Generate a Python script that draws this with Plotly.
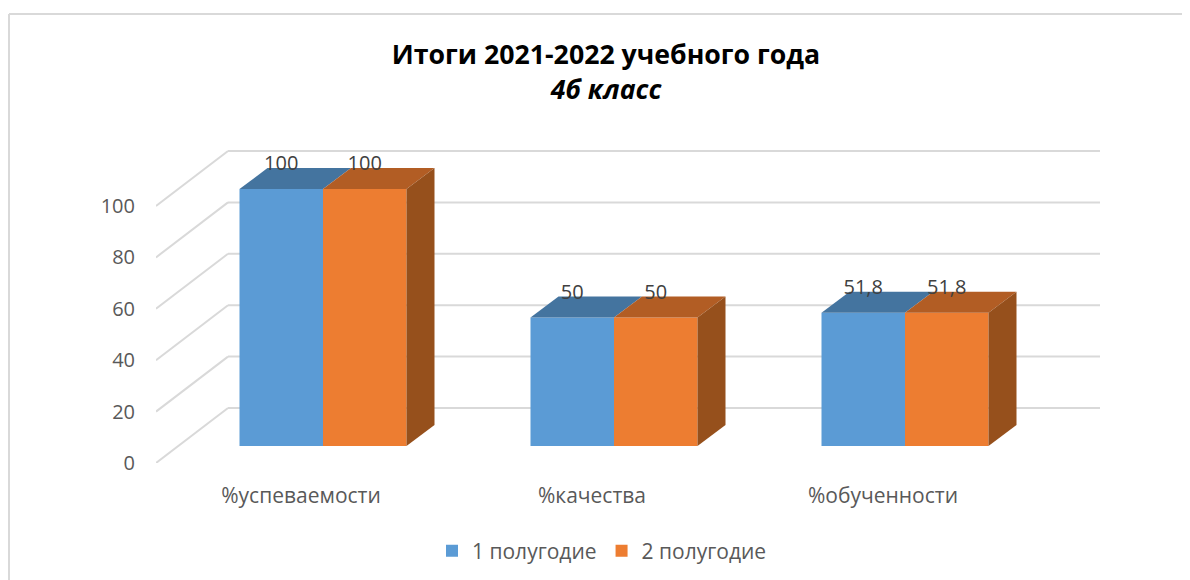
import plotly.graph_objects as go

categories = ["%успеваемости", "%качества", "%обученности"]
series_1 = [100, 50, 51.8]
series_2 = [100, 50, 51.8]
series_names = ["1 полугодие", "2 полугодие"]
y_ticks = [0, 20, 40, 60, 80, 100]
title_main = "Итоги 2021-2022 учебного года"
title_sub = "4б класс"

PAGE = 8          # the page body margin shifts the figure by this much
W, H = 1190 - PAGE, 580 - PAGE
L, R, T, B = 156 - PAGE, 1100 - PAGE, 150 - PAGE, 463 - PAGE
PX_X = 291.0      # px per category
PX_Y = 2.57       # px per value unit
X0 = 323 - PAGE   # px of first category centre
def dx(px): return px / PX_X
def dy(px): return px / PX_Y

BAR_W = dx(83.5)
BASE = dy(17)
DEPTH_X, DEPTH_Y = dx(28), dy(21)
WALL_X, WALL_Y = dx(72), dy(55)
LABEL_UP = dy(24)

x_left = (L - X0) / PX_X
x_right = (R - X0) / PX_X

fig = go.Figure()
pos = list(range(len(categories)))

styles = [
    (series_1, "#5B9BD5", "#44749F", -BAR_W, series_names[0]),
    (series_2, "#ED7D31", "#B25D24", 0, series_names[1]),
]

for vals, col, topc, off, name in styles:
    fig.add_trace(go.Bar(x=pos, y=vals, base=BASE, width=BAR_W, offset=off,
                         marker=dict(color=col, line=dict(width=0)), name=name,
                         showlegend=True, hoverinfo="skip"))

for vals, col, topc, off, name in styles:
    for p, v in zip(pos, vals):
        a, b = p + off, p + off + BAR_W
        top = BASE + v
        fig.add_trace(go.Scatter(
            x=[a, b, b + DEPTH_X, a + DEPTH_X, a],
            y=[top, top, top + DEPTH_Y, top + DEPTH_Y, top],
            mode="lines", fill="toself", fillcolor=topc, line=dict(width=0),
            showlegend=False, hoverinfo="skip"))

# side faces of the right-hand series
for p, v in zip(pos, series_2):
    b = p + BAR_W
    top = BASE + v
    fig.add_trace(go.Scatter(
        x=[b, b + DEPTH_X, b + DEPTH_X, b, b],
        y=[BASE, BASE + DEPTH_Y, top + DEPTH_Y, top, BASE],
        mode="lines", fill="toself", fillcolor="#96501C", line=dict(width=0),
        showlegend=False, hoverinfo="skip"))

def fmt(v):
    return str(v).replace(".", ",")

for vals, col, topc, off, name in styles:
    fig.add_trace(go.Scatter(
        x=[p + off + BAR_W / 2 for p in pos],
        y=[BASE + v + LABEL_UP for v in vals],
        text=[fmt(v) for v in vals], mode="text", textposition="middle center",
        textfont=dict(family="Open Sans", size=20, color="#404040"),
        showlegend=False, hoverinfo="skip"))

GRID = dict(color="#D9D9D9", width=2)
shapes = []
for t in y_ticks:
    shapes.append(dict(type="line", xref="x", yref="y", layer="below",
                       x0=x_left, x1=x_left + WALL_X, y0=t, y1=t + WALL_Y, line=GRID))
    shapes.append(dict(type="line", xref="x", yref="y", layer="below",
                       x0=x_left + WALL_X, x1=x_right, y0=t + WALL_Y, y1=t + WALL_Y, line=GRID))
# chart frame, in paper fractions of the plot area
pw, ph = R - L, B - T
def fx(px): return (px - L) / pw
def fy(px): return (B - px) / ph
FRAME = dict(color="#D9D9D9", width=2)
shapes.append(dict(type="line", xref="paper", yref="paper", layer="below",
                   x0=fx(1), x1=fx(W), y0=fy(6), y1=fy(6), line=FRAME))
shapes.append(dict(type="line", xref="paper", yref="paper", layer="below",
                   x0=fx(1), x1=fx(1), y0=fy(6), y1=fy(H), line=FRAME))

fig.update_layout(
    width=W, height=H, autosize=False,
    margin=dict(l=L, r=W - R, t=T, b=H - B),
    paper_bgcolor="white", plot_bgcolor="rgba(0,0,0,0)",
    barmode="overlay", shapes=shapes,
    title=dict(
        text=f"<b>{title_main}</b><br><b><i>{title_sub}</i></b>",
        font=dict(family="Open Sans", size=26.7, color="#000000"),
        x=(606 - PAGE) / W, xanchor="center", xref="container",
        y=1 - 56 / H, yanchor="top", yref="container"),
    xaxis=dict(range=[x_left, x_right], tickvals=[p + dx(-22) for p in pos],
               ticktext=categories, showgrid=False, zeroline=False, showline=False,
               ticks="", ticklabelstandoff=18,
               tickfont=dict(family="Open Sans", size=21, color="#595959")),
    yaxis=dict(range=[0, ph / PX_Y], tickvals=y_ticks, showgrid=False, zeroline=False,
               showline=False, ticks="", ticklabelstandoff=20,
               tickfont=dict(family="Open Sans", size=20, color="#595959")),
    legend=dict(orientation="h", xref="container", yref="container",
                x=(602 - PAGE) / W, xanchor="center",
                y=1 - 543 / H, yanchor="middle", traceorder="normal",
                font=dict(family="Open Sans", size=21, color="#595959"),
                itemwidth=30, bgcolor="rgba(0,0,0,0)"),
)

fig.write_html("out.html")
